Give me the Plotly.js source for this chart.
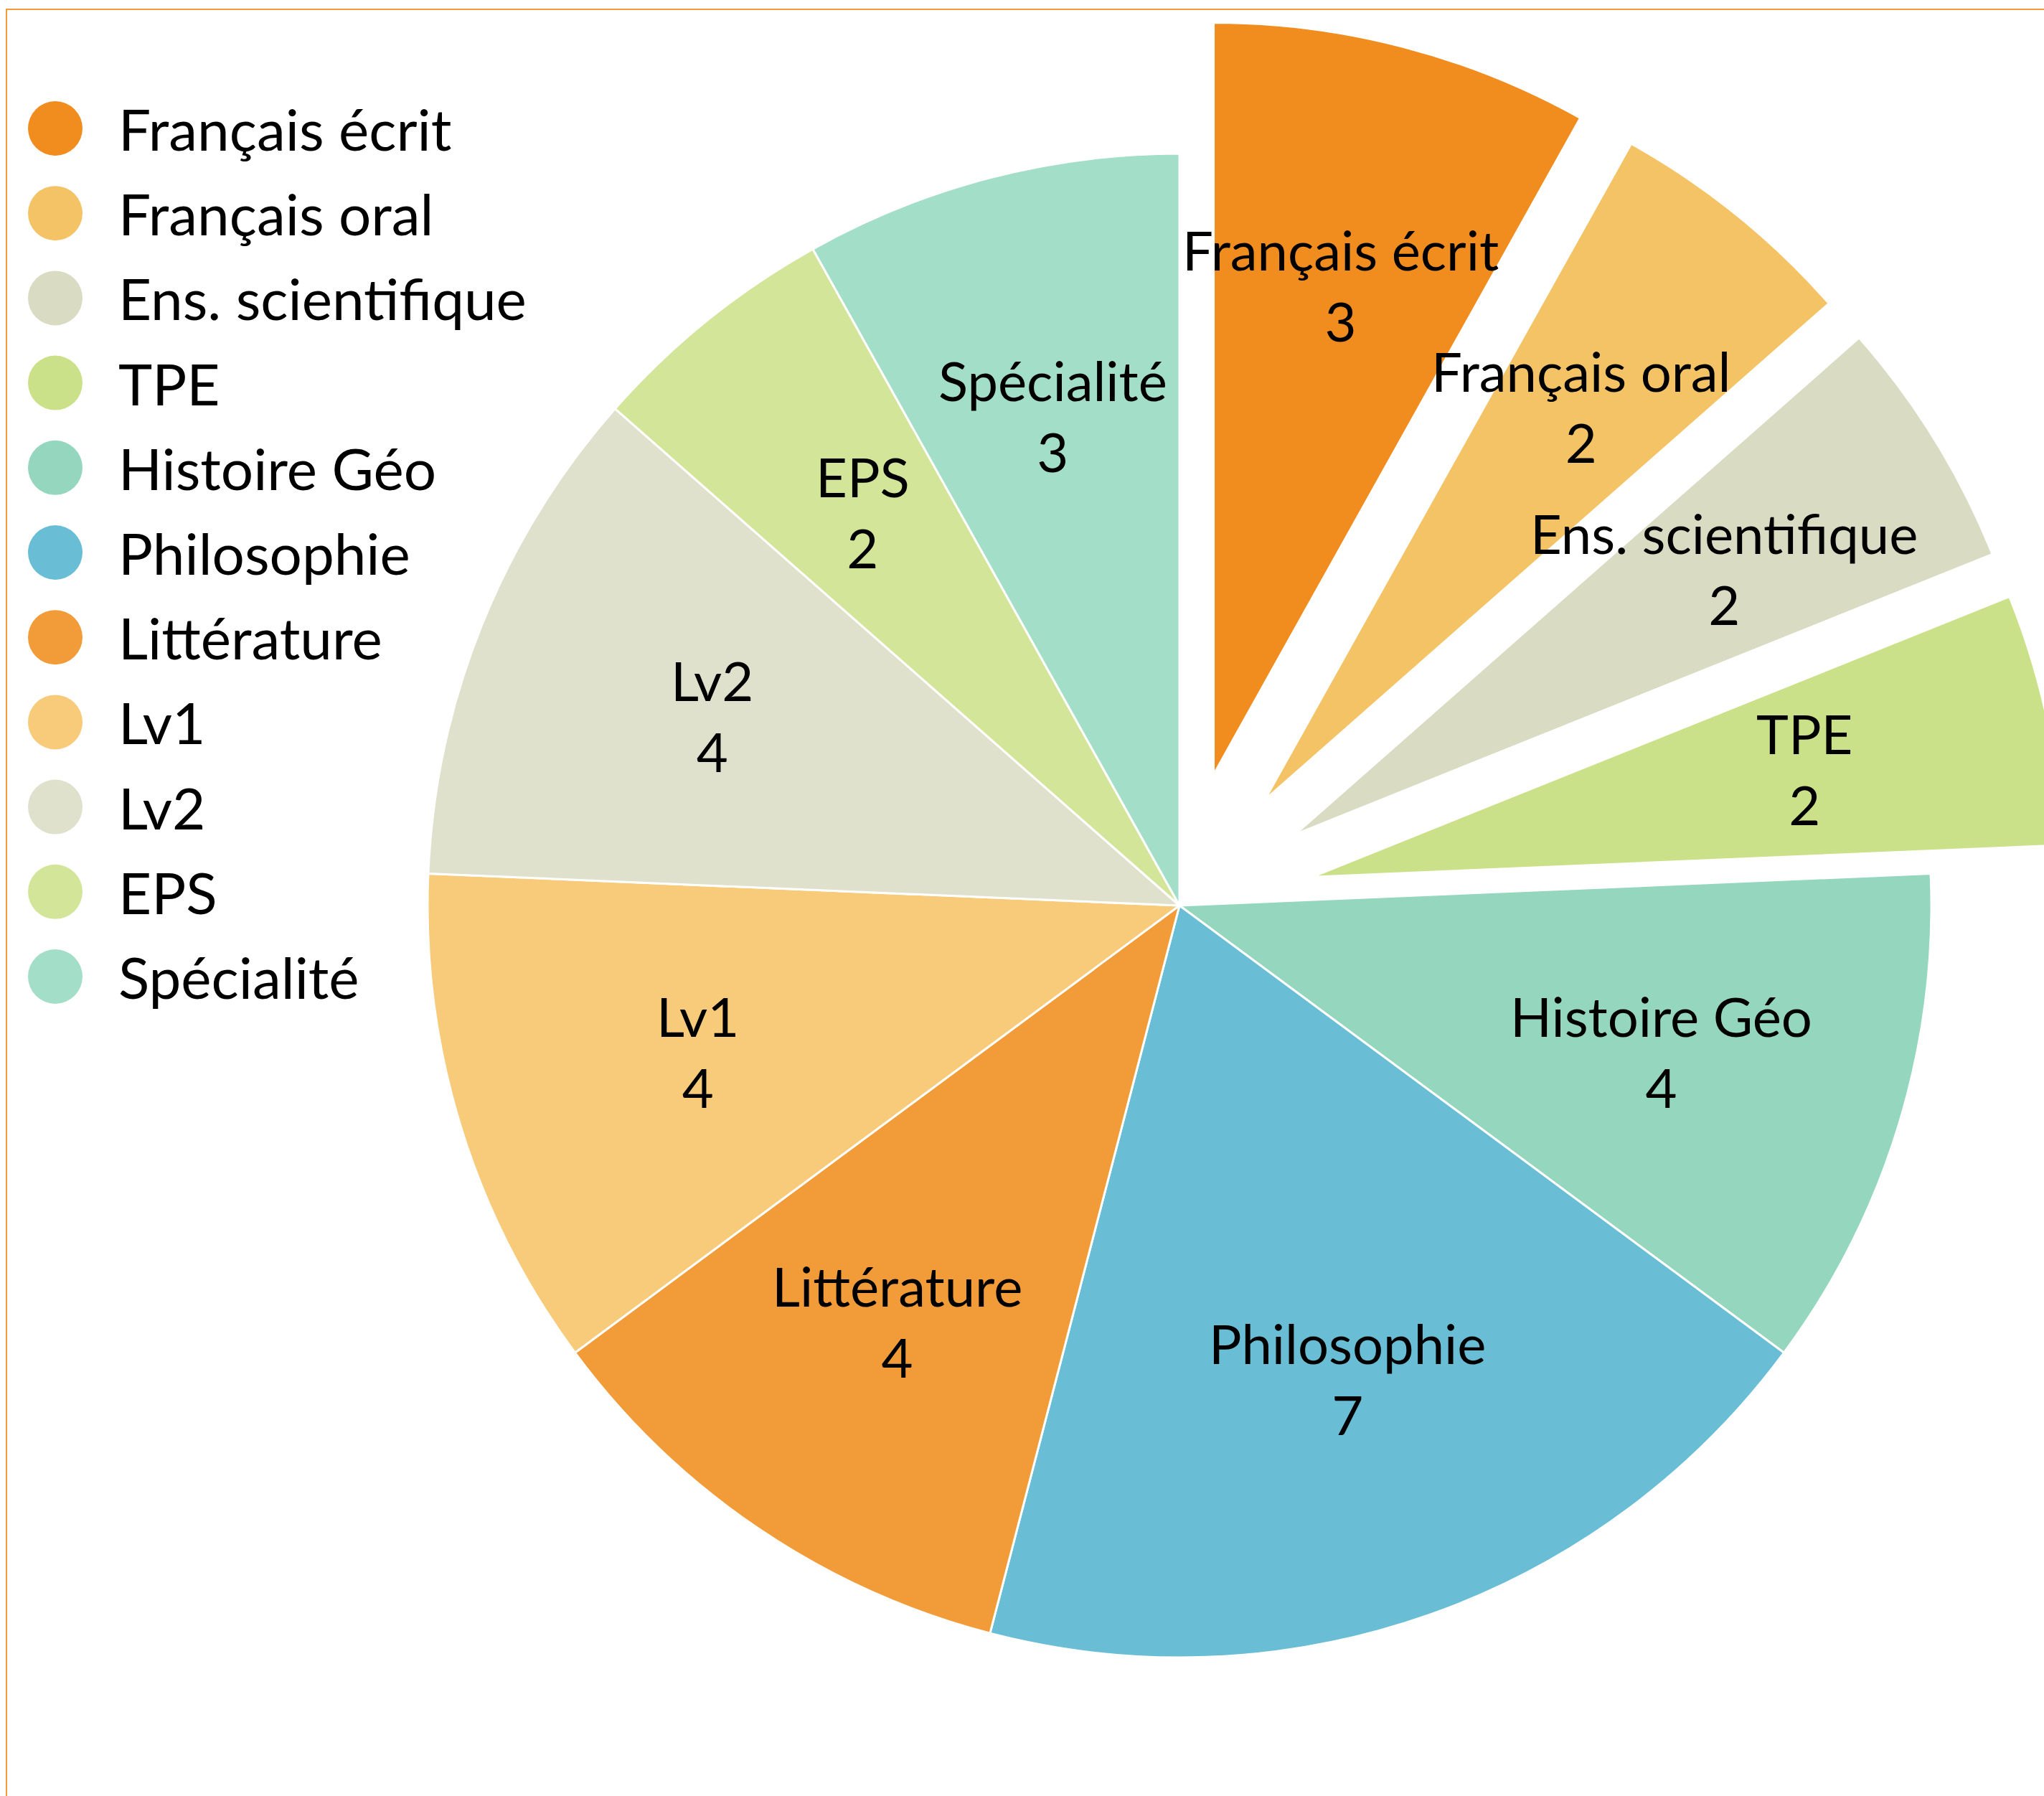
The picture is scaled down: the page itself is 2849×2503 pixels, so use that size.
<!DOCTYPE html>
<html>
<head>
<meta charset="utf-8">
<script src="https://cdn.plot.ly/plotly-3.0.1.min.js"></script>
<style>
  html, body { margin: 0; padding: 0; background: #ffffff; overflow: hidden; }
  #chart { position: absolute; left: 0; top: 0; width: 3000px; height: 2600px; }
  /* orange frame, only top and left edges are visible in the crop */
  #frame {
    position: absolute; left: 8px; top: 12px; width: 3200px; height: 2800px;
    border-top: 2px solid #F39A36; border-left: 2px solid #F39A36;
    pointer-events: none;
  }
</style>
</head>
<body>
<div id="chart"></div>
<div id="frame"></div>
<script>
// data
const subjects = ['Français écrit', 'Français oral', 'Ens. scientifique', 'TPE', 'Histoire Géo',
  'Philosophie', 'Littérature', 'Lv1', 'Lv2', 'EPS', 'Spécialité'];
const hours = [3, 2, 2, 2, 4, 7, 4, 4, 4, 2, 3];

// styling
const sliceColors = ['#F18D1F', '#F4C366', '#D9DBC2', '#CBE189', '#95D6BE',
  '#69BED5', '#F29C39', '#F7CB7A', '#DFE1CD', '#D3E598', '#A3DEC8'];
const pulled = [0.18, 0.18, 0.18, 0.18, 0, 0, 0, 0, 0, 0, 0];

const W = 3000, H = 2600;
const FONT = 'Lato, "Open Sans", sans-serif';
const pieCenter = [1644, 1262];
const pieRadius = 1048;
const LABEL_R = 0.67; // label distance as a fraction of radius

const half = pieRadius * (1 + Math.max(...pulled));

const trace = {
  type: 'pie',
  labels: subjects,
  values: hours,
  sort: false,
  direction: 'clockwise',
  rotation: 0,
  pull: pulled,
  marker: { colors: sliceColors, line: { color: '#ffffff', width: 3 } },
  textinfo: 'none',
  hoverinfo: 'label+value',
  showlegend: false,
  domain: {
    x: [(pieCenter[0] - half) / W, (pieCenter[0] + half) / W],
    y: [1 - (pieCenter[1] + half) / H, 1 - (pieCenter[1] - half) / H]
  }
};

// legend drawn by hand: round swatches
const legendTop = 179, legendStep = 118.2, swatchX = 77, textX = 163;
const legendShapes = subjects.map((s, i) => ({
  type: 'circle',
  xref: 'paper', yref: 'paper',
  xsizemode: 'pixel', ysizemode: 'pixel',
  xanchor: swatchX / W, yanchor: 1 - (legendTop + i * legendStep) / H,
  x0: -38, x1: 38, y0: -38, y1: 38,
  fillcolor: sliceColors[i],
  line: { width: 0 }
}));
const legendNotes = subjects.map((s, i) => ({
  text: s,
  xref: 'paper', yref: 'paper',
  x: textX / W, y: 1 - (legendTop + i * legendStep) / H,
  xanchor: 'left', yanchor: 'middle',
  showarrow: false,
  font: { family: FONT, size: 80, color: '#000000' }
}));

const layout = {
  width: W,
  height: H,
  margin: { l: 0, r: 0, t: 0, b: 0 },
  paper_bgcolor: '#ffffff',
  showlegend: false,
  shapes: legendShapes,
  annotations: legendNotes
};

const gd = document.getElementById('chart');
Plotly.newPlot(gd, [trace], layout, { displayModeBar: false }).then(() => {
  // place slice labels using the pie geometry Plotly computed
  const cd = gd.calcdata[0];
  const cd0 = cd[0];
  const gs = gd._fullLayout._size;
  const labelNotes = cd.map((pt, i) => {
    const k = LABEL_R + pulled[i];
    const px = cd0.cx + pt.pxmid[0] * k;
    const py = cd0.cy + pt.pxmid[1] * k - 3;
    return {
      text: subjects[i] + '<br>' + hours[i],
      xref: 'paper', yref: 'paper',
      x: (px - gs.l) / gs.w, y: 1 - (py - gs.t) / gs.h,
      xanchor: 'center', yanchor: 'middle', align: 'center',
      showarrow: false,
      font: { family: FONT, size: 76, color: '#000000' }
    };
  });
  return Plotly.relayout(gd, { annotations: legendNotes.concat(labelNotes) });
});
</script>
</body>
</html>
